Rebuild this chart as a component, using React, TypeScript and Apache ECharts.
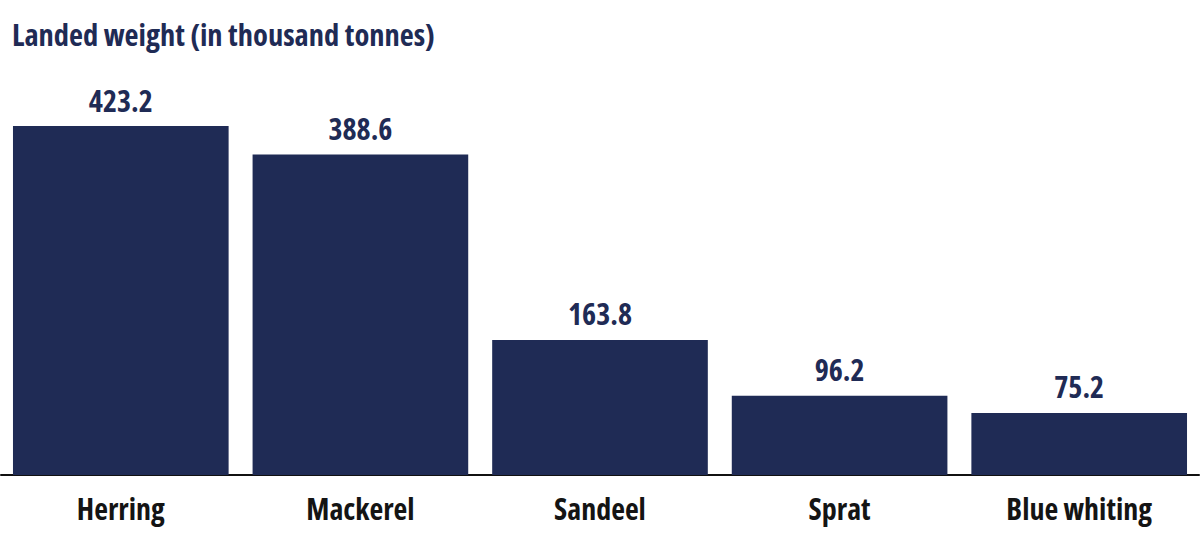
import React, { useEffect, useRef } from "react";
import * as echarts from "echarts";

const categories = ["Herring", "Mackerel", "Sandeel", "Sprat", "Blue whiting"];
const values = [423.2, 388.6, 163.8, 96.2, 75.2];
const titleText = "Landed weight (in thousand tonnes)";

const FONT = "'Open Sans', sans-serif";
const NAVY = "#1f2b55";

export default function App() {
  const ref = useRef<HTMLDivElement>(null);
  useEffect(() => {
    if (!ref.current) return;
    const chart = echarts.init(ref.current, undefined, { renderer: "svg" });
    chart.setOption({
      animation: false,
      backgroundColor: "#ffffff",
      title: {
        text: titleText,
        left: 7,
        top: 13,
        textStyle: { fontFamily: FONT, fontSize: 30.5, fontWeight: "bold", color: NAVY },
      },
      grid: { left: 1, right: 1, top: 126, bottom: 64, containLabel: false },
      xAxis: {
        type: "category",
        data: categories,
        axisLine: { show: true, lineStyle: { color: "#111111", width: 2 } },
        axisTick: { show: false },
        axisLabel: {
          interval: 0,
          margin: 18,
          fontFamily: FONT,
          fontSize: 30,
          fontWeight: "bold",
          color: "#141414",
        },
      },
      yAxis: {
        type: "value",
        min: 0,
        max: 423.2,
        show: false,
        splitLine: { show: false },
      },
      series: [
        {
          type: "bar",
          data: values,
          barCategoryGap: "10%",
          itemStyle: { color: NAVY },
          label: {
            show: true,
            position: "top",
            distance: 11,
            fontFamily: FONT,
            fontSize: 30,
            fontWeight: "bold",
            color: NAVY,
            formatter: (p: any) => Number(p.value).toFixed(1),
          },
        },
      ],
    });
    return () => chart.dispose();
  }, []);
  return (
    <>
      <style>{".cond svg text { font-stretch: 75% !important; }"}</style>
      <div
        ref={ref}
        className="cond"
        style={{ position: "fixed", left: 0, top: 0, width: 1200, height: 539, background: "#fff" }}
      />
    </>
  );
}
